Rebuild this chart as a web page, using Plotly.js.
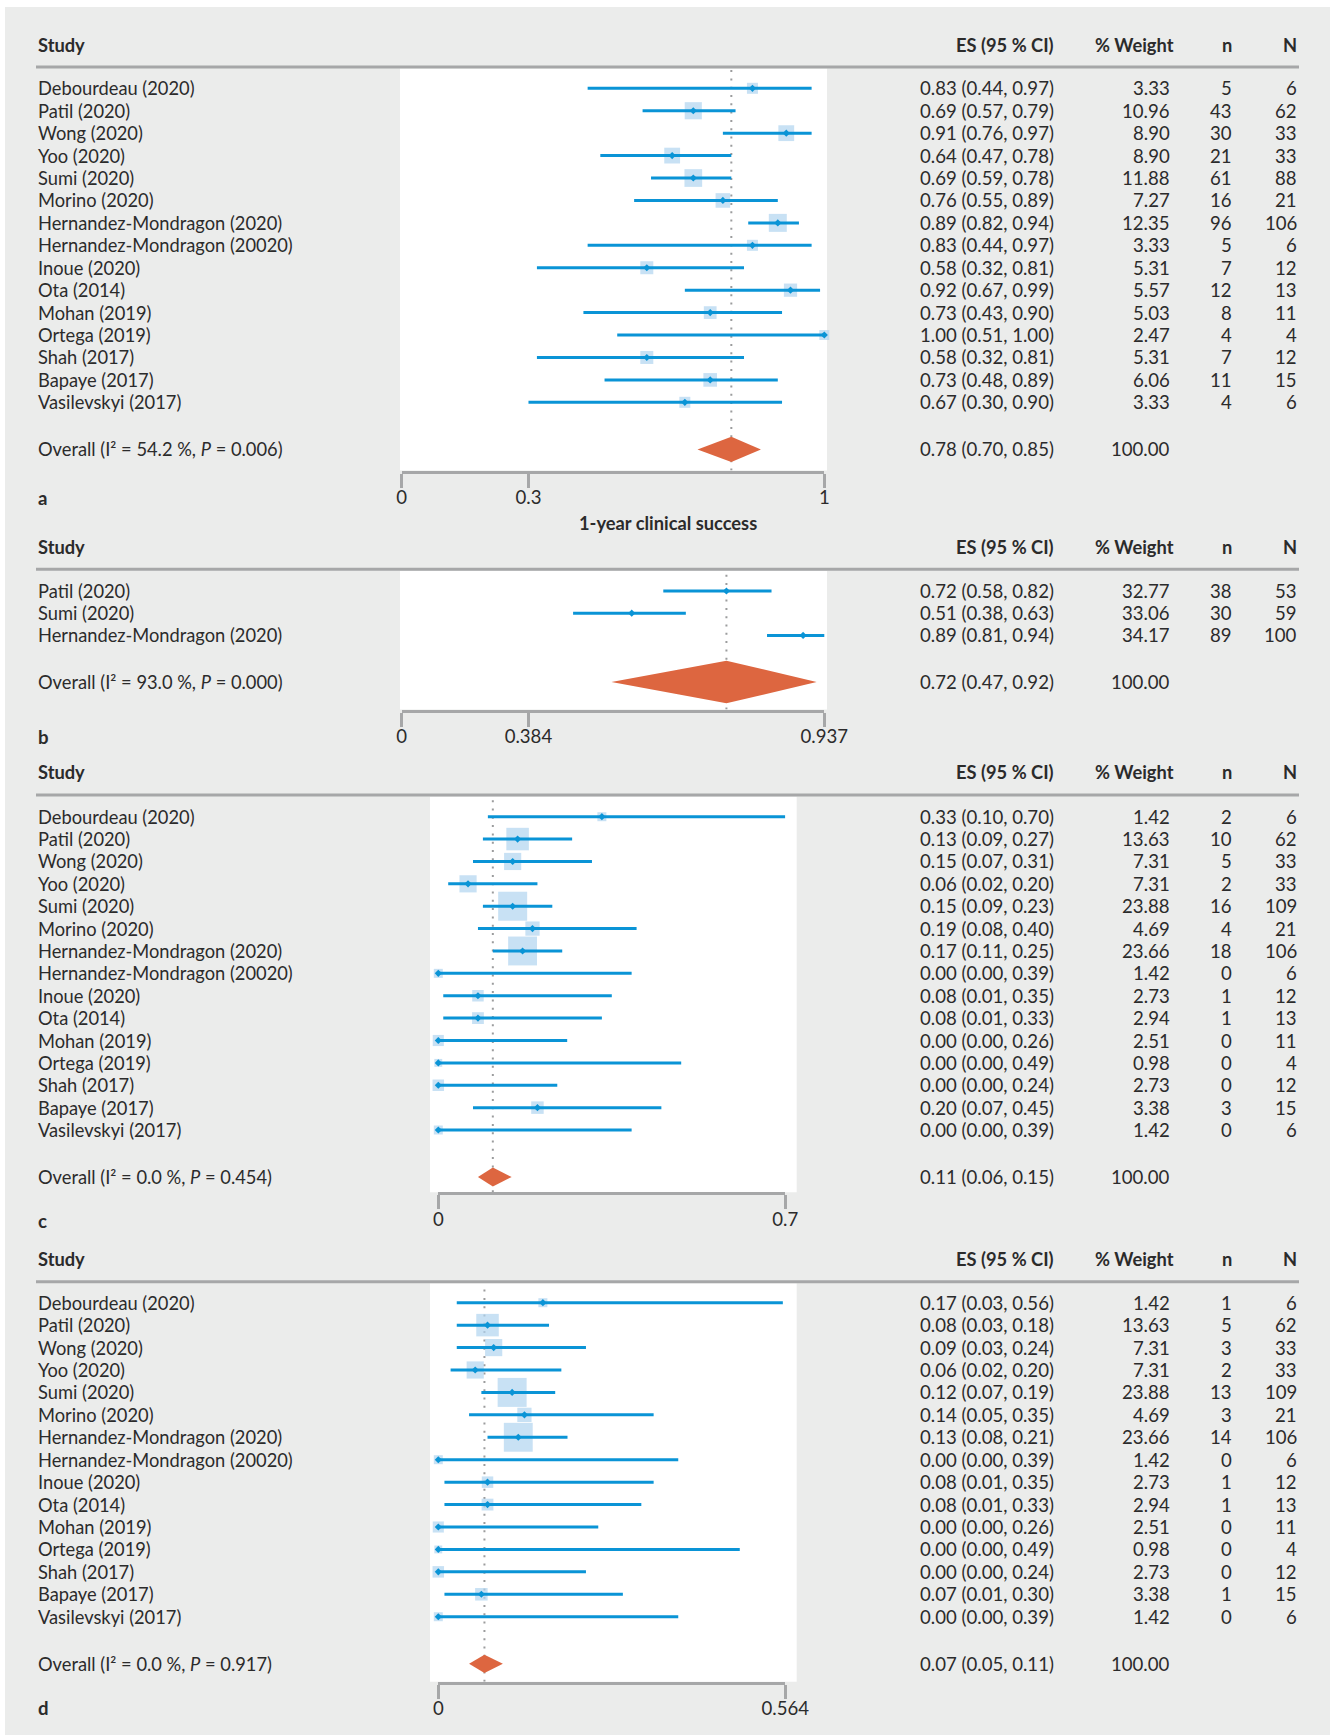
<!DOCTYPE html>
<html><head><meta charset="utf-8">
<script src="https://cdn.plot.ly/plotly-3.0.1.min.js"></script>
<style>html,body{margin:0;padding:0;background:#fff}</style>
</head><body><div id="chart" style="width:1330px;height:1735px"></div>
<script>
// ---------------- DATA ----------------
const studies15 = ["Debourdeau (2020)","Patil (2020)","Wong (2020)","Yoo (2020)","Sumi (2020)","Morino (2020)","Hernandez-Mondragon (2020)","Hernandez-Mondragon (20020)","Inoue (2020)","Ota (2014)","Mohan (2019)","Ortega (2019)","Shah (2017)","Bapaye (2017)","Vasilevskyi (2017)"];
const studiesB = ["Patil (2020)","Sumi (2020)","Hernandez-Mondragon (2020)"];

// panel a
const esA = [0.83,0.69,0.91,0.64,0.69,0.76,0.89,0.83,0.58,0.92,0.73,1.00,0.58,0.73,0.67];
const loA = [0.44,0.57,0.76,0.47,0.59,0.55,0.82,0.44,0.32,0.67,0.43,0.51,0.32,0.48,0.30];
const hiA = [0.97,0.79,0.97,0.78,0.78,0.89,0.94,0.97,0.81,0.99,0.90,1.00,0.81,0.89,0.90];
const esTxtA = ["0.83 (0.44, 0.97)","0.69 (0.57, 0.79)","0.91 (0.76, 0.97)","0.64 (0.47, 0.78)","0.69 (0.59, 0.78)","0.76 (0.55, 0.89)","0.89 (0.82, 0.94)","0.83 (0.44, 0.97)","0.58 (0.32, 0.81)","0.92 (0.67, 0.99)","0.73 (0.43, 0.90)","1.00 (0.51, 1.00)","0.58 (0.32, 0.81)","0.73 (0.48, 0.89)","0.67 (0.30, 0.90)"];
const wA = [3.33,10.96,8.90,8.90,11.88,7.27,12.35,3.33,5.31,5.57,5.03,2.47,5.31,6.06,3.33];
const nA = [5,43,30,21,61,16,96,5,7,12,8,4,7,11,4];
const NA = [6,62,33,33,88,21,106,6,12,13,11,4,12,15,6];

// panel b
const esB = [0.72,0.51,0.89];
const loB = [0.58,0.38,0.81];
const hiB = [0.82,0.63,0.94];
const esTxtB = ["0.72 (0.58, 0.82)","0.51 (0.38, 0.63)","0.89 (0.81, 0.94)"];
const wB = [32.77,33.06,34.17];
const nB = [38,30,89];
const NB = [53,59,100];

// panel c
const esC = [0.33,0.16,0.15,0.06,0.15,0.19,0.17,0.00,0.08,0.08,0.00,0.00,0.00,0.20,0.00];
const loC = [0.10,0.09,0.07,0.02,0.09,0.08,0.11,0.00,0.01,0.01,0.00,0.00,0.00,0.07,0.00];
const hiC = [0.70,0.27,0.31,0.20,0.23,0.40,0.25,0.39,0.35,0.33,0.26,0.49,0.24,0.45,0.39];
const esTxtC = ["0.33 (0.10, 0.70)","0.13 (0.09, 0.27)","0.15 (0.07, 0.31)","0.06 (0.02, 0.20)","0.15 (0.09, 0.23)","0.19 (0.08, 0.40)","0.17 (0.11, 0.25)","0.00 (0.00, 0.39)","0.08 (0.01, 0.35)","0.08 (0.01, 0.33)","0.00 (0.00, 0.26)","0.00 (0.00, 0.49)","0.00 (0.00, 0.24)","0.20 (0.07, 0.45)","0.00 (0.00, 0.39)"];
const wC = [1.42,13.63,7.31,7.31,23.88,4.69,23.66,1.42,2.73,2.94,2.51,0.98,2.73,3.38,1.42];
const nC = [2,10,5,2,16,4,18,0,1,1,0,0,0,3,0];
const NC = [6,62,33,33,109,21,106,6,12,13,11,4,12,15,6];

// panel d
const esD = [0.17,0.08,0.09,0.06,0.12,0.14,0.13,0.00,0.08,0.08,0.00,0.00,0.00,0.07,0.00];
const loD = [0.03,0.03,0.03,0.02,0.07,0.05,0.08,0.00,0.01,0.01,0.00,0.00,0.00,0.01,0.00];
const hiD = [0.56,0.18,0.24,0.20,0.19,0.35,0.21,0.39,0.35,0.33,0.26,0.49,0.24,0.30,0.39];
const esTxtD = ["0.17 (0.03, 0.56)","0.08 (0.03, 0.18)","0.09 (0.03, 0.24)","0.06 (0.02, 0.20)","0.12 (0.07, 0.19)","0.14 (0.05, 0.35)","0.13 (0.08, 0.21)","0.00 (0.00, 0.39)","0.08 (0.01, 0.35)","0.08 (0.01, 0.33)","0.00 (0.00, 0.26)","0.00 (0.00, 0.49)","0.00 (0.00, 0.24)","0.07 (0.01, 0.30)","0.00 (0.00, 0.39)"];
const wD = [1.42,13.63,7.31,7.31,23.88,4.69,23.66,1.42,2.73,2.94,2.51,0.98,2.73,3.38,1.42];
const nD = [1,5,3,2,13,3,14,0,1,1,0,0,0,1,0];
const ND = [6,62,33,33,109,21,106,6,12,13,11,4,12,15,6];

// overall (pooled) estimates per panel a, b, c, d
const overallES = [0.78, 0.72, 0.11, 0.075];
const overallLo = [0.70, 0.465, 0.08, 0.05];
const overallHi = [0.85, 0.92, 0.148, 0.105];
const overallTxt = ["0.78 (0.70, 0.85)","0.72 (0.47, 0.92)","0.11 (0.06, 0.15)","0.07 (0.05, 0.11)"];
const overallI2 = ["54.2","93.0","0.0","0.0"];
const overallP = ["0.006","0.000","0.454","0.917"];

// axes
const axisMax = [1, 0.937, 0.7, 0.564];
const tickValsA = [0, 0.3, 1],      tickTextA = ["0","0.3","1"];
const tickValsB = [0, 0.281, 0.937], tickTextB = ["0","0.384","0.937"];
const tickValsC = [0, 0.7],          tickTextC = ["0","0.7"];
const tickValsD = [0, 0.564],        tickTextD = ["0","0.564"];
const panelLetters = ["a","b","c","d"];
const midTitle = "1-year clinical success";
const headers = ["Study","ES (95 % CI)","% Weight","n","N"];

// ---------------- LAYOUT / STYLE ----------------
const W = 1330, H = 1735;
const fx = p => p / W, fy = p => 1 - p / H;
const FONT = 'Lato, "Liberation Sans", sans-serif';
const FS = 18.6;      // numbers
const FSN = 18.3;     // names
const TXT = '#2b2b2b';
const AX = '#a6a7a8';
const BLUE = '#0a94d6', BOX = '#b0d4ef', ORANGE = '#dd6640';

const panels = [
  {names: studies15, es: esA, lo: loA, hi: hiA, txt: esTxtA, w: wA, n: nA, N: NA, tv: tickValsA, tt: tickTextA, boxes: true, boxA: 3.5, boxB: 4.12, dh: 0.56,
   L: {white: [400, 827], axis: [401.7, 824.3], headY: 45, lineY: 67, top: 68.5, bottom: 470.5, row0: 88.3, step: 22.43, letterY: 498}},
  {names: studiesB, es: esB, lo: loB, hi: hiB, txt: esTxtB, w: wB, n: nB, N: NB, tv: tickValsB, tt: tickTextB, boxes: false, boxA: 0, boxB: 0, dh: 0.96,
   L: {white: [400, 827], axis: [401.7, 824.3], headY: 546.7, lineY: 569.3, top: 571, bottom: 709.5, row0: 591, step: 22.2, letterY: 737}},
  {names: studies15, es: esC, lo: loC, hi: hiC, txt: esTxtC, w: wC, n: nC, N: NC, tv: tickValsC, tt: tickTextC, boxes: true, boxA: 2.55, boxB: 5.41, dh: 0.42,
   L: {white: [430, 796.7], axis: [438.3, 785.3], headY: 772.3, lineY: 795, top: 796.7, bottom: 1192.3, row0: 816.7, step: 22.38, letterY: 1221}},
  {names: studies15, es: esD, lo: loD, hi: hiD, txt: esTxtD, w: wD, n: nD, N: ND, tv: tickValsD, tt: tickTextD, boxes: true, boxA: 2.55, boxB: 5.41, dh: 0.41,
   L: {white: [430, 796.7], axis: [438.3, 785.3], headY: 1259.2, lineY: 1281.7, top: 1283.3, bottom: 1681.7, row0: 1302.7, step: 22.43, letterY: 1708}}
];

const traces = [], annotations = [], shapes = [];
const layout = {
  width: W, height: H, margin: {l: 0, r: 0, t: 0, b: 0, pad: 0},
  paper_bgcolor: '#ffffff', plot_bgcolor: 'rgba(0,0,0,0)', showlegend: false,
  font: {family: FONT, size: FS, color: TXT}, hovermode: false
};

// gray page background
shapes.push({type: 'rect', xref: 'paper', yref: 'paper', x0: fx(5), x1: 1, y0: 0, y1: fy(7),
  fillcolor: '#ebeceb', line: {width: 0}, layer: 'below'});

function ann(text, x, xanchor, y, yref, size) {
  annotations.push({text: text, x: x, xref: 'paper', xanchor: xanchor, y: y, yref: yref,
    yanchor: 'middle', showarrow: false, borderpad: 0, font: {family: FONT, size: size || FS, color: TXT}});
}

const colX = {study: 36.5, es: 1055, w: 1171, n: 1233, N: 1298};
const headX = {study: 36.5, es: 1055, w: 1175, n: 1233, N: 1298};

panels.forEach((p, k) => {
  const xa = k === 0 ? 'x' : 'x' + (k + 1);
  const ya = k === 0 ? 'y' : 'y' + (k + 1);
  const L = p.L;
  const nS = p.names.length;
  const rows = p.names.map((_, i) => i);
  const ovRow = nS + 1.1;
  const yTop = -(L.row0 - L.top) / L.step;
  const yBot = (L.bottom - L.row0) / L.step;

  layout[k === 0 ? 'yaxis' : 'yaxis' + (k + 1)] = {
    domain: [fy(L.bottom), fy(L.top)], range: [yBot, yTop], anchor: xa,
    visible: false, showgrid: false, zeroline: false, fixedrange: true
  };
  layout[k === 0 ? 'xaxis' : 'xaxis' + (k + 1)] = {
    domain: [fx(L.axis[0]), fx(L.axis[1])], range: [0, axisMax[k]], anchor: ya,
    showline: true, linecolor: AX, linewidth: 3, ticks: 'outside', ticklen: 14, tickwidth: 3, tickcolor: AX,
    tickmode: 'array', tickvals: p.tv, ticktext: p.tt, showgrid: false, zeroline: false, fixedrange: true,
    ticklabelstandoff: -6,
    tickfont: {family: FONT, size: FS, color: TXT}
  };

  // white plotting area
  shapes.push({type: 'rect', xref: 'paper', yref: 'paper', x0: fx(L.white[0]), x1: fx(L.white[1]),
    y0: fy(L.bottom), y1: fy(L.top), fillcolor: '#ffffff', line: {width: 0}, layer: 'below'});
  // header rule
  shapes.push({type: 'line', xref: 'paper', yref: 'paper', x0: fx(36), x1: fx(1299),
    y0: fy(L.lineY), y1: fy(L.lineY), line: {color: AX, width: 3}, layer: 'below'});

  // dotted reference line at pooled estimate
  traces.push({type: 'scatter', mode: 'lines', x: [overallES[k], overallES[k]], y: [yBot, yTop],
    xaxis: xa, yaxis: ya, line: {color: '#9b9c9d', width: 2, dash: '2px,6.3px'}, hoverinfo: 'skip'});

  // weight boxes
  if (p.boxes) {
    traces.push({type: 'scatter', mode: 'markers', x: p.es, y: rows, xaxis: xa, yaxis: ya, cliponaxis: false,
      marker: {symbol: 'square', color: BOX, size: p.w.map(v => p.boxA + p.boxB * Math.sqrt(v)), line: {width: 0}},
      hoverinfo: 'skip'});
  }
  // CI lines
  const cx = [], cy = [];
  p.lo.forEach((v, i) => { cx.push(v, p.hi[i], null); cy.push(i, i, null); });
  traces.push({type: 'scatter', mode: 'lines', x: cx, y: cy, xaxis: xa, yaxis: ya,
    line: {color: BLUE, width: 3}, hoverinfo: 'skip'});
  // point estimates
  traces.push({type: 'scatter', mode: 'markers', x: p.es, y: rows, xaxis: xa, yaxis: ya, cliponaxis: false,
    marker: {symbol: 'diamond', color: BLUE, size: 5.5, line: {width: 0}}, hoverinfo: 'skip'});
  // pooled diamond
  traces.push({type: 'scatter', mode: 'lines', fill: 'toself', fillcolor: ORANGE,
    x: [overallLo[k], overallES[k], overallHi[k], overallES[k], overallLo[k]],
    y: [ovRow, ovRow - p.dh, ovRow, ovRow + p.dh, ovRow], xaxis: xa, yaxis: ya,
    line: {width: 0, color: ORANGE}, hoverinfo: 'skip'});

  // header texts
  const hy = fy(L.headY);
  ann('<b>' + headers[0] + '</b>', fx(headX.study), 'left', hy, 'paper', FSN);
  ann('<b>' + headers[1] + '</b>', fx(headX.es), 'right', hy, 'paper', FSN);
  ann('<b>' + headers[2] + '</b>', fx(headX.w), 'right', hy, 'paper', FSN);
  ann('<b>' + headers[3] + '</b>', fx(headX.n), 'right', hy, 'paper', FSN);
  ann('<b>' + headers[4] + '</b>', fx(headX.N), 'right', hy, 'paper', FSN);

  // study rows
  p.names.forEach((nm, i) => {
    ann(nm, fx(colX.study), 'left', i, ya, FSN);
    ann(p.txt[i], fx(colX.es), 'right', i, ya);
    ann(p.w[i].toFixed(2), fx(colX.w), 'right', i, ya);
    ann(String(p.n[i]), fx(colX.n), 'right', i, ya);
    ann(String(p.N[i]), fx(colX.N), 'right', i, ya);
  });
  // overall row
  ann('Overall (I\u00B2 = ' + overallI2[k] + ' %, <i>P</i> = ' + overallP[k] + ')', fx(colX.study), 'left', ovRow, ya, FSN);
  ann(overallTxt[k], fx(colX.es), 'right', ovRow, ya);
  ann('100.00', fx(colX.w), 'right', ovRow, ya);

  // panel letter
  ann('<b>' + panelLetters[k] + '</b>', fx(36.5), 'left', fy(L.letterY), 'paper');
});

ann('<b>' + midTitle + '</b>', fx(668), 'center', fy(523), 'paper', FSN);

layout.shapes = shapes;
layout.annotations = annotations;

Plotly.newPlot('chart', traces, layout, {displayModeBar: false, staticPlot: true});
</script>
</body></html>
